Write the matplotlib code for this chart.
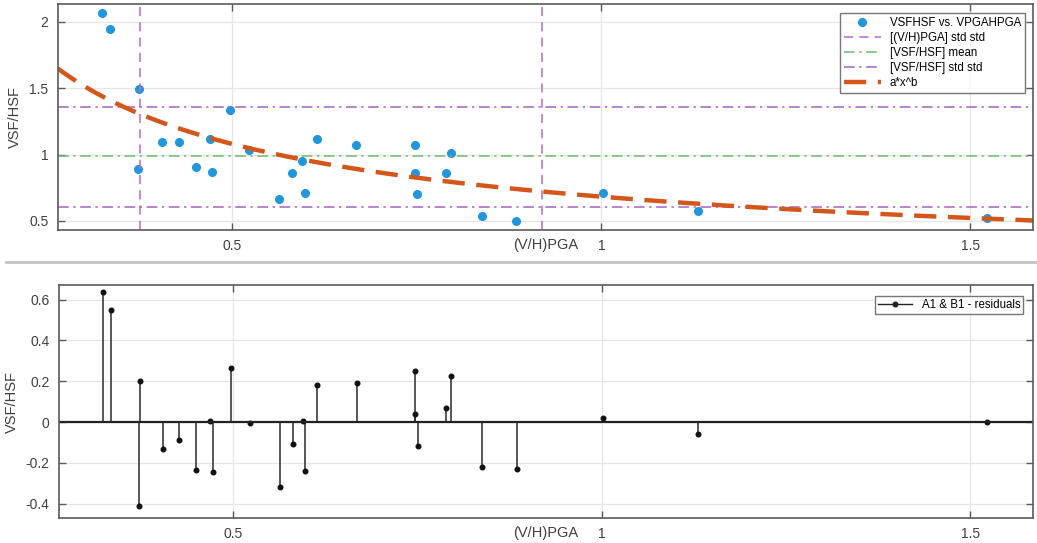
import numpy as np
import matplotlib
matplotlib.use("Agg")
import matplotlib.pyplot as plt
from matplotlib.lines import Line2D

plt.rcParams['font.family'] = ['Liberation Sans', 'DejaVu Sans']

# points
vh_pga = [0.323, 0.334, 0.374, 0.372, 0.404, 0.427, 0.450, 0.469, 0.472,
          0.497, 0.523, 0.563, 0.581, 0.594, 0.598, 0.614, 0.668, 0.747,
          0.747, 0.750, 0.789, 0.796, 0.838, 0.885, 1.002, 1.131, 1.523]
vsf_hsf = [2.067, 1.946, 1.490, 0.888, 1.098, 1.098, 0.908, 1.116, 0.865,
           1.338, 1.035, 0.665, 0.860, 0.954, 0.710, 1.116, 1.075, 1.070,
           0.860, 0.700, 0.860, 1.014, 0.536, 0.498, 0.708, 0.572, 0.520]
residuals = [0.64, 0.55, 0.20, -0.41, -0.13, -0.09, -0.235, 0.003, -0.245,
             0.265, -0.005, -0.32, -0.11, 0.003, -0.24, 0.18, 0.19, 0.25,
             0.04, -0.12, 0.07, 0.225, -0.22, -0.23, 0.022, -0.058, 0.0]

# fit and statistics lines
fit_a, fit_b = 0.683, -0.66
pga_std_lines = [0.375, 0.919]
hsf_mean = 0.989
hsf_std_lines = [0.605, 1.36]

xlim = (0.263, 1.585)

fig = plt.figure(figsize=(10.37, 5.43), dpi=100)
ax1 = fig.add_axes([0.0555, 0.5764, 0.9406, 0.4162])
ax2 = fig.add_axes([0.0565, 0.0460, 0.9396, 0.4291])

# separator between the two panels
fig.add_artist(Line2D([0.006, 1.0], [0.517, 0.517], color='#c4c4c4', lw=2))

edge = '#5a5a5a'
for ax in (ax1, ax2):
    ax.set_xlim(xlim)
    ax.set_xticks([0.5, 1, 1.5])
    ax.set_xticklabels(['0.5', '1', '1.5'])
    ax.grid(True, color='#e6e6e6', lw=0.9)
    ax.set_axisbelow(True)
    ax.tick_params(direction='in', length=5, width=1, colors=edge,
                   labelcolor='#404040', labelsize=10, top=True, right=True, pad=6.5)
    for s in ax.spines.values():
        s.set_color(edge)
        s.set_linewidth(1.2)
    ax.set_xlabel('(V/H)PGA', fontsize=10.5, color='#404040', labelpad=-11)
    ax.set_ylabel('VSF/HSF', fontsize=10.5, color='#404040', labelpad=5)

# top panel
ax1.plot(vh_pga, vsf_hsf, 'o', color='#2196db', ms=5.5, label='VSFHSF vs. VPGAHPGA')
for i, xv in enumerate(pga_std_lines):
    ax1.axvline(xv, color='#b96ac8', lw=1.1, dashes=(6, 4),
                label='[(V/H)PGA] std std' if i == 0 else None)
ax1.axhline(hsf_mean, color='#72b872', lw=1.1, dashes=(7, 3, 1.5, 3),
            label='[VSF/HSF] mean')
for i, yv in enumerate(hsf_std_lines):
    ax1.axhline(yv, color='#a665bb', lw=1.1, dashes=(7, 3, 1.5, 3),
                label='[VSF/HSF] std std' if i == 0 else None)
xs = np.linspace(xlim[0], xlim[1], 300)
ax1.plot(xs, fit_a * xs ** fit_b, color='#d4561b', lw=3.2, dashes=(5, 2.6), label='a*x^b')
ax1.set_ylim(0.432, 2.133)
ax1.set_yticks([0.5, 1, 1.5, 2])
ax1.set_yticklabels(['0.5', '1', '1.5', '2'])
leg1 = ax1.legend(loc='upper right', fontsize=8.3, frameon=True, fancybox=False,
                  edgecolor='#555555', borderpad=0.35, labelspacing=0.25,
                  handlelength=3.2, borderaxespad=0, bbox_to_anchor=(0.992, 0.96))
leg1.get_frame().set_linewidth(1.0)

# bottom panel
ml, sl, bl = ax2.stem(vh_pga, residuals, linefmt='-', markerfmt='o', basefmt='-')
plt.setp(sl, color='#2a2a2a', lw=1.1)
plt.setp(ml, color='#111111', ms=3.3)
plt.setp(bl, color='#222222', lw=1.6)
bl.set_xdata([xlim[0], xlim[1]])
ax2.set_ylim(-0.471, 0.672)
ax2.set_yticks([-0.4, -0.2, 0, 0.2, 0.4, 0.6])
ax2.set_yticklabels(['-0.4', '-0.2', '0', '0.2', '0.4', '0.6'])
res_handle = Line2D([0, 1], [0, 0], color='#222222', lw=1, marker='o', ms=3.3)
leg2 = ax2.legend(handles=[res_handle], labels=['A1 & B1 - residuals'],
                  loc='upper right', fontsize=8.3, fancybox=False,
                  edgecolor='#555555', borderpad=0.25, handlelength=3.0,
                  borderaxespad=0, bbox_to_anchor=(0.99, 0.953))
leg2.get_frame().set_linewidth(1.0)

fig.savefig('out.png', dpi=100, facecolor='white')
